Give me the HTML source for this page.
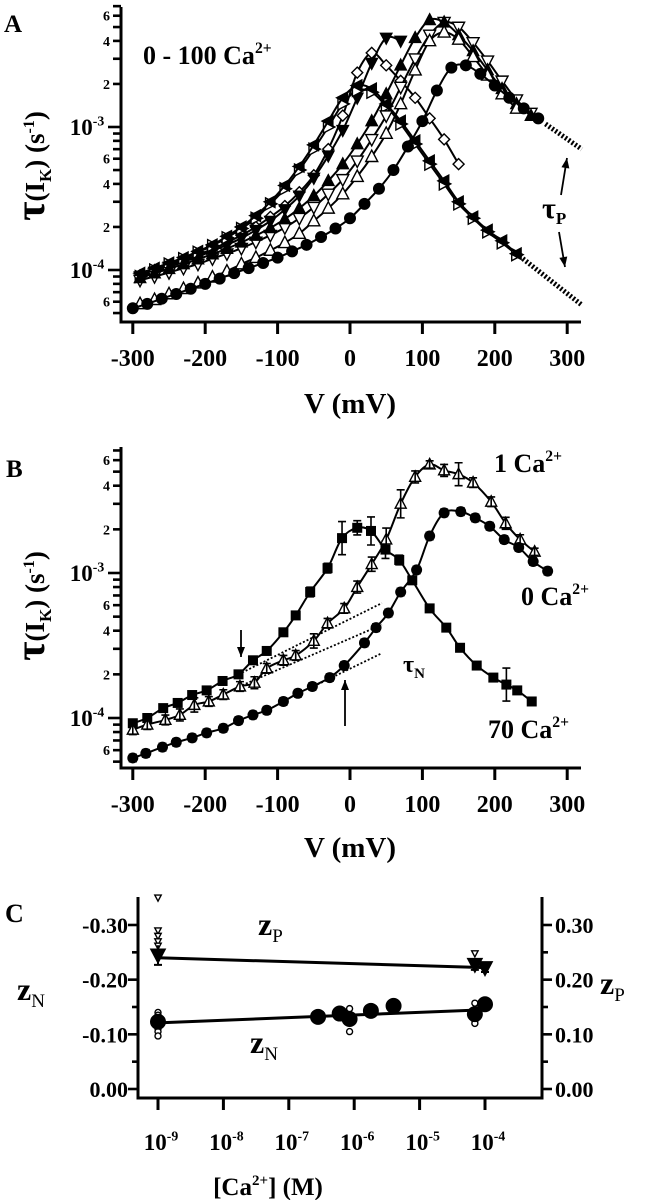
<!DOCTYPE html>
<html><head><meta charset="utf-8"><style>
html,body{margin:0;padding:0;background:#fff}
svg{display:block}
text{font-family:"Liberation Serif",serif;font-weight:bold;fill:#000}
</style></head><body>
<svg id="fig" width="650" height="1200" viewBox="0 0 650 1200" xmlns="http://www.w3.org/2000/svg">
<g id="gA"></g>
<g id="gB"></g>
<g id="gC"></g>
</svg>
<script>
// ---------- Panel A data ----------
const a0V=[-300,-280,-260,-240,-220,-200,-180,-160,-140,-120,-100,-80,-60,-40,-20,0,20,40,60,80,100,120,140,160,180,200,220,240,260];
const a0T=[5.4e-5,5.8e-5,6.3e-5,6.8e-5,7.4e-5,8e-5,8.7e-5,9.5e-5,1.03e-4,1.12e-4,1.22e-4,1.35e-4,1.5e-4,1.7e-4,1.95e-4,2.3e-4,2.9e-4,3.7e-4,5e-4,7.3e-4,1.1e-3,1.8e-3,2.6e-3,2.7e-3,2.35e-3,1.95e-3,1.6e-3,1.35e-3,1.15e-3];
const a1V=[-290,-270,-250,-230,-210,-190,-170,-150,-130,-110,-90,-70,-50,-30,-10,10,30,50,70,90,110,130,150,170,190,210,230];
const a1T=[5.8e-5,6.2e-5,6.8e-5,7.4e-5,8.1e-5,8.9e-5,9.8e-5,1.1e-4,1.22e-4,1.37e-4,1.55e-4,1.8e-4,2.2e-4,2.7e-4,3.4e-4,4.5e-4,6.2e-4,9e-4,1.45e-3,2.5e-3,4e-3,4.6e-3,4.1e-3,3.1e-3,2.3e-3,1.7e-3,1.35e-3];
const a2V=[-290,-270,-250,-230,-210,-190,-170,-150,-130,-110,-90,-70,-50,-30,-10,10,30,50,70,90,110,130,150,170,190,210,230,250];
const a2T=[8.5e-5,9e-5,9.6e-5,1.03e-4,1.1e-4,1.2e-4,1.3e-4,1.42e-4,1.57e-4,1.75e-4,1.98e-4,2.3e-4,2.75e-4,3.4e-4,4.3e-4,5.8e-4,8.2e-4,1.2e-3,1.9e-3,3e-3,4.4e-3,5.4e-3,5e-3,3.9e-3,2.9e-3,2.1e-3,1.55e-3,1.25e-3];
const a3V=[-290,-270,-250,-230,-210,-190,-170,-150,-130,-110,-90,-70,-50,-30,-10,10,30,50,70,90,110,130,150,170,190,210,230,250];
const a3T=[8.8e-5,9.5e-5,1.02e-4,1.1e-4,1.19e-4,1.29e-4,1.41e-4,1.56e-4,1.74e-4,1.97e-4,2.27e-4,2.7e-4,3.3e-4,4.2e-4,5.5e-4,7.6e-4,1.1e-3,1.7e-3,2.7e-3,4.2e-3,5.6e-3,5.4e-3,4.4e-3,3.4e-3,2.5e-3,1.85e-3,1.45e-3,1.2e-3];
const a4V=[-290,-270,-250,-230,-210,-190,-170,-150,-130,-110,-90,-70,-50,-30,-10,10,30,50,70];
const a4T=[9e-5,9.7e-5,1.05e-4,1.14e-4,1.24e-4,1.36e-4,1.5e-4,1.67e-4,1.9e-4,2.2e-4,2.65e-4,3.3e-4,4.4e-4,6.3e-4,9.5e-4,1.6e-3,2.8e-3,4.2e-3,4e-3];
const a5V=[-290,-270,-250,-230,-210,-190,-170,-150,-130,-110,-90,-70,-50,-30,-10,10,30,50,70,90,110,130,150];
const a5T=[9.2e-5,1e-4,1.08e-4,1.17e-4,1.28e-4,1.4e-4,1.56e-4,1.75e-4,2e-4,2.35e-4,2.8e-4,3.5e-4,4.6e-4,7e-4,1.2e-3,2.4e-3,3.3e-3,2.7e-3,2.1e-3,1.6e-3,1.15e-3,8.2e-4,5.5e-4];
const a6V=[-290,-270,-250,-230,-210,-190,-170,-150,-130,-110,-90,-70,-50,-30,-10,10,30,50,70,90,110,130,150,170,190,210,230];
const a6T=[9.5e-5,1.03e-4,1.12e-4,1.22e-4,1.35e-4,1.5e-4,1.72e-4,2e-4,2.4e-4,3e-4,3.9e-4,5.3e-4,7.5e-4,1.1e-3,1.6e-3,1.95e-3,1.85e-3,1.45e-3,1.1e-3,8e-4,5.8e-4,4.2e-4,3e-4,2.35e-4,1.9e-4,1.6e-4,1.3e-4];
const a7V=[-290,-270,-250,-230,-210,-190,-170,-150,-130,-110,-90,-70,-50,-30,-10,10,30,50,70,90,110,130,150,170,190,210,230];
const a7T=[9e-5,1e-4,1.1e-4,1.2e-4,1.33e-4,1.48e-4,1.68e-4,1.95e-4,2.3e-4,2.9e-4,3.7e-4,5e-4,7e-4,1e-3,1.45e-3,1.8e-3,1.75e-3,1.4e-3,1.05e-3,7.6e-4,5.5e-4,4e-4,2.9e-4,2.3e-4,1.85e-4,1.55e-4,1.28e-4];
const aTailPV=[270,320]; const aTailPT=[1.05e-3,7e-4];
const aTailNV=[230,320]; const aTailNT=[1.3e-4,5.7e-5];
const xTickLabels=[-300,-200,-100,0,100,200,300];

// ---------- Panel B data ----------
const b70V=[-300,-280,-258,-238,-218,-198,-176,-154,-134,-115,-92,-75,-55,-31,-11,10,29,49,68,86,110,133,152,175,198,216,231,251];
const b70T=[9.2e-5,1e-4,1.17e-4,1.27e-4,1.44e-4,1.55e-4,1.8e-4,2e-4,2.5e-4,2.9e-4,3.9e-4,5.1e-4,7.4e-4,1.08e-3,1.74e-3,2.05e-3,1.95e-3,1.45e-3,1.23e-3,8.9e-4,5.7e-4,4.2e-4,3.05e-4,2.3e-4,1.9e-4,1.7e-4,1.55e-4,1.3e-4];
const b70E=[.06,.06,.06,.06,.06,.06,.06,.06,.06,.06,.06,.06,.08,.08,.3,.12,.25,.15,.08,.06,.06,.06,.06,.06,.06,.3,.06,.06];
const b1V=[-300,-280,-255,-235,-215,-195,-175,-152,-132,-115,-92,-75,-50,-31,-8,10,30,50,70,90,110,130,150,170,195,215,235,255];
const b1T=[8.3e-5,9e-5,9.7e-5,1.05e-4,1.23e-4,1.3e-4,1.45e-4,1.65e-4,1.75e-4,2.2e-4,2.5e-4,2.7e-4,3.4e-4,4.5e-4,5.7e-4,8e-4,1.15e-3,1.7e-3,3e-3,4.6e-3,5.6e-3,5.1e-3,4.8e-3,4.2e-3,3.1e-3,2.2e-3,1.7e-3,1.4e-3];
const b1E=[.08,.08,.08,.1,.12,.08,.08,.08,.1,.08,.08,.08,.12,.08,.08,.1,.12,.2,.25,.1,.06,.1,.2,.08,.08,.1,.08,.06];
const b0V=[-300,-282,-259,-240,-218,-198,-175,-154,-134,-115,-92,-72,-52,-28,-8,20,36,53,70,92,110,130,153,173,193,213,233,253,273];
const b0T=[5.3e-5,5.7e-5,6.3e-5,6.8e-5,7.3e-5,7.9e-5,8.5e-5,9.6e-5,1.05e-4,1.13e-4,1.3e-4,1.48e-4,1.65e-4,1.9e-4,2.3e-4,3.3e-4,4.2e-4,5.3e-4,7.4e-4,1.05e-3,1.8e-3,2.6e-3,2.65e-3,2.4e-3,2.1e-3,1.7e-3,1.5e-3,1.2e-3,1.03e-3];
const bDotV0=[-154,-154,-45]; const bDotV1=[44,44,44];
const bDotT0=[2e-4,1.64e-4,1.7e-4]; const bDotT1=[6.2e-4,4.4e-4,2.8e-4];

// ---------- Panel C data ----------
const zpConc=[1e-9,7e-5,1e-4]; const zpVal=[0.245,0.228,0.222]; const zpErr=[0.018,0.01,0.008];
const zpRawConc=[1e-9,1e-9,1e-9,1e-9,1e-9,7e-5]; const zpRaw=[0.35,0.29,0.28,0.27,0.262,0.248];
const znConc=[1e-9,2.8e-7,6e-7,8.5e-7,1.8e-6,4e-6,7e-5,1e-4]; const znVal=[0.123,0.132,0.138,0.128,0.143,0.152,0.137,0.155];
const znRawConc=[1e-9,1e-9,1e-9,1e-9,1e-9,1e-9,8.5e-7,8.5e-7,7e-5,7e-5,7e-5];
const znRaw=[0.14,0.135,0.13,0.11,0.105,0.097,0.147,0.105,0.157,0.125,0.12];
const fitConc=[1e-9,1e-4]; const zpFit=[0.24,0.222]; const znFit=[0.121,0.145];
const cYTicks=[0,0.1,0.2,0.3]; const cYLabelsL=["0.00","-0.10","-0.20","-0.30"]; const cYLabelsR=["0.00","0.10","0.20","0.30"];
const cXExp=[-9,-8,-7,-6,-5,-4];

// ---------- helpers ----------
const NS="http://www.w3.org/2000/svg";
function mk(tag,attrs,parent){const e=document.createElementNS(NS,tag);for(const k in attrs)e.setAttribute(k,attrs[k]);parent.appendChild(e);return e;}
const xV=v=>350+0.724*v;
const yA=t=>270-143*Math.log10(t/1e-4);
const yB=t=>718-145*Math.log10(t/1e-4);
const xC=c=>158+65.4*(Math.log10(c)+9);
const yC=z=>1089-546.7*z;

function smooth(pts){
  let d="M"+pts[0][0].toFixed(1)+","+pts[0][1].toFixed(1);
  for(let i=0;i<pts.length-1;i++){
    const p0=pts[Math.max(0,i-1)],p1=pts[i],p2=pts[i+1],p3=pts[Math.min(pts.length-1,i+2)];
    const c1=[p1[0]+(p2[0]-p0[0])/6,p1[1]+(p2[1]-p0[1])/6];
    const c2=[p2[0]-(p3[0]-p1[0])/6,p2[1]-(p3[1]-p1[1])/6];
    d+=" C"+c1[0].toFixed(1)+","+c1[1].toFixed(1)+" "+c2[0].toFixed(1)+","+c2[1].toFixed(1)+" "+p2[0].toFixed(1)+","+p2[1].toFixed(1);
  }
  return d;
}
function marker(g,type,x,y,s){
  let e;
  const open={fill:"#fff",stroke:"#000","stroke-width":1.4};
  const fill={fill:"#000",stroke:"#000","stroke-width":1};
  if(type==="circle"){e=mk("circle",Object.assign({cx:x,cy:y,r:s},fill),g);}
  else if(type==="ocircle"){e=mk("circle",Object.assign({cx:x,cy:y,r:s},open),g);}
  else if(type==="sq"){e=mk("rect",Object.assign({x:x-s,y:y-s,width:2*s,height:2*s},fill),g);}
  else{
    let p;
    if(type.startsWith("tri"))p=[[x,y-s*1.1],[x+s,y+s*0.8],[x-s,y+s*0.8]];
    else if(type.startsWith("itri"))p=[[x,y+s*1.1],[x+s,y-s*0.8],[x-s,y-s*0.8]];
    else if(type.startsWith("diam"))p=[[x,y-s],[x+s,y],[x,y+s],[x-s,y]];
    else if(type.startsWith("rtri"))p=[[x+s*1.1,y],[x-s*0.8,y-s],[x-s*0.8,y+s]];
    else p=[[x-s*1.1,y],[x+s*0.8,y-s],[x+s*0.8,y+s]];
    e=mk("polygon",Object.assign({points:p.map(q=>q.join(",")).join(" ")},type.endsWith("f")?fill:open),g);
  }
  
  
  return e;
}
function txt(g,x,y,s,size,anchor,name){
  const t=mk("text",{x:x,y:y,"font-size":size,"text-anchor":anchor||"start"},g);
  t.textContent=s;
  
  
  return t;
}
function supText(g,x,y,base,sup,size,anchor,name){
  const t=mk("text",{x:x,y:y,"font-size":size,"text-anchor":anchor||"start"},g);
  
  
  const a=mk("tspan",{},t);a.textContent=base;
  const b=mk("tspan",{dy:-size*0.42,"font-size":size*0.6},t);b.textContent=sup;
  return t;
}
function logAxis(g,yf,x0,yTop,yBot,decLabels){
  const ax=mk("line",{x1:x0,y1:yTop,x2:x0,y2:yBot+1.5,stroke:"#000","stroke-width":3},g);
  
  
  for(const dec of [1e-5,1e-4,1e-3]){
    for(let m=1;m<=9;m++){
      const t=m*dec;const y=yf(t);
      if(y<yTop-1||y>yBot-3)continue;
      const len=(m===1)?13:8;
      const tk=mk("line",{x1:x0-len,y1:y,x2:x0,y2:y,stroke:"#000","stroke-width":2.6},g);
      
      
      if(m===2||m===4||m===6)txt(g,x0-11,y+5,String(m),14,"end","y-tick-label");
      if(m===1)supText(g,x0-34,y+8,"10",decLabels[dec],23,"middle","y-decade-label");
    }
  }
}
function xAxis(g,yAx,name){
  const ax=mk("line",{x1:119.5,y1:yAx,x2:581,y2:yAx,stroke:"#000","stroke-width":3},g);
  
  
  for(const v of xTickLabels){
    const tk=mk("line",{x1:xV(v),y1:yAx,x2:xV(v),y2:yAx+12,stroke:"#000","stroke-width":3},g);
    
    
    txt(g,xV(v),yAx+44,String(v),24,"middle","x-tick-label");
  }
}
function yTitle(g,cx,cy){
  const t=mk("text",{x:0,y:0,"font-size":27,"text-anchor":"middle",transform:"translate("+cx+","+cy+") rotate(-90)"},g);
  
  
  const a=mk("tspan",{"font-size":42},t);a.textContent="τ";
  const b=mk("tspan",{},t);b.textContent="(I";
  const c=mk("tspan",{dy:7,"font-size":17},t);c.textContent="K";
  const d=mk("tspan",{dy:-7},t);d.textContent=") (s";
  const e=mk("tspan",{dy:-10,"font-size":16},t);e.textContent="-1";
  const f=mk("tspan",{dy:10},t);f.textContent=")";
}
function series(g,V,T,yf,type,s,name){
  const sg=mk("g",{},g);
  
  
  const pts=V.map((v,i)=>[xV(v),yf(T[i])]);
  mk("path",{d:smooth(pts),fill:"none",stroke:"#000","stroke-width":2},sg);
  pts.forEach(p=>marker(sg,type,p[0],p[1],s));
  return sg;
}
function dotted(g,v0,v1,t0,t1,yf,w,name){
  const l=mk("line",{x1:xV(v0),y1:yf(t0),x2:xV(v1),y2:yf(t1),stroke:"#000","stroke-width":w,"stroke-dasharray":"2,2"},g);
  
  
}
function arrow(g,x1,y1,x2,y2,name){
  const ag=mk("g",{},g);
  
  
  mk("line",{x1:x1,y1:y1,x2:x2,y2:y2,stroke:"#000","stroke-width":1.8},ag);
  const a=Math.atan2(y2-y1,x2-x1),L=10,W=4;
  const bx=x2-L*Math.cos(a),by=y2-L*Math.sin(a);
  mk("polygon",{points:[x2,y2,bx-W*Math.sin(a),by+W*Math.cos(a),bx+W*Math.sin(a),by-W*Math.cos(a)].join(","),fill:"#000"},ag);
}

// ---------- Panel A ----------
const gA=document.getElementById("gA");
txt(gA,4,32,"A",25,"start","panel-label-a");
logAxis(gA,yA,121,7,322,{1e-5:"-5",1e-4:"-4",1e-3:"-3"});
xAxis(gA,322,"x-axis-a");
txt(gA,350,413,"V (mV)",29,"middle","x-axis-title-a");
yTitle(gA,44,166);
supText(gA,143,64,"0 - 100 Ca","2+",26,"start","legend-text-a");
dotted(gA,aTailPV[0],aTailPV[1],aTailPT[0],aTailPT[1],yA,5,"tau-p-extrapolation");
dotted(gA,aTailNV[0],aTailNV[1],aTailNT[0],aTailNT[1],yA,5,"tau-n-extrapolation");
series(gA,a5V,a5T,yA,"diam",5.5,"series-diamond");
series(gA,a4V,a4T,yA,"itrif",6,"series-filled-down-triangle");
series(gA,a7V,a7T,yA,"rtri",6,"series-right-triangle");
series(gA,a6V,a6T,yA,"ltrif",6,"series-70-ca");
series(gA,a2V,a2T,yA,"itri",6,"series-open-down-triangle");
series(gA,a3V,a3T,yA,"trif",6,"series-filled-up-triangle");
series(gA,a1V,a1T,yA,"tri",6,"series-open-up-triangle");
series(gA,a0V,a0T,yA,"circle",5.5,"series-0-ca");
(function(){const t=mk("text",{x:542,y:218,"font-size":30},gA);


const a=mk("tspan",{},t);a.textContent="τ";const b=mk("tspan",{dy:6,"font-size":17},t);b.textContent="P";})();
arrow(gA,561,195,567,158,"tau-p-arrow-up");
arrow(gA,559,232,565,267,"tau-p-arrow-down");

// ---------- Panel B ----------
const gB=document.getElementById("gB");
txt(gB,6,477,"B",25,"start","panel-label-b");
logAxis(gB,yB,121,447,768,{1e-5:"-5",1e-4:"-4",1e-3:"-3"});
xAxis(gB,768,"x-axis-b");
txt(gB,350,857,"V (mV)",29,"middle","x-axis-title-b");
yTitle(gB,44,606);
for(let i=0;i<bDotV0.length;i++)dotted(gB,bDotV0[i],bDotV1[i],bDotT0[i],bDotT1[i],yB,1.8,"tau-n-fit-line");
function errSeries(V,T,E,type,s,name){
  const sg=series(gB,V,T,yB,type,s,name);
  V.forEach((v,i)=>{
    const e=E?E[i]:0.06;const x=xV(v);
    const y1=yB(T[i]*(1+e)),y2=yB(T[i]/(1+e));
    const eg=mk("g",{},sg);
    
    
    mk("path",{d:"M"+x+","+y1+"V"+y2+"M"+(x-4)+","+y1+"H"+(x+4)+"M"+(x-4)+","+y2+"H"+(x+4),stroke:"#000","stroke-width":1.6,fill:"none"},eg);
  });
}
errSeries(b70V,b70T,b70E,"sq",4.5,"series-70-ca-b");
errSeries(b1V,b1T,b1E,"tri",5.5,"series-1-ca-b");
errSeries(b0V,b0T,null,"circle",5,"series-0-ca-b");
supText(gB,494,472,"1 Ca","2+",26,"start","label-1-ca");
supText(gB,521,605,"0 Ca","2+",26,"start","label-0-ca");
supText(gB,488,738,"70 Ca","2+",26,"start","label-70-ca");
(function(){const t=mk("text",{x:403,y:672,"font-size":24},gB);


const a=mk("tspan",{},t);a.textContent="τ";const b=mk("tspan",{dy:6,"font-size":15},t);b.textContent="N";})();
arrow(gB,241,630,241,657,"arrow-down-b");
arrow(gB,345,726,345,680,"arrow-up-b");

// ---------- Panel C ----------
const gC=document.getElementById("gC");
txt(gC,5,922,"C",26,"start","panel-label-c");
(function(){
  const l=mk("line",{x1:138,y1:897,x2:138,y2:1099.5,stroke:"#000","stroke-width":3},gC);
  
  
  const r=mk("line",{x1:542,y1:897,x2:542,y2:1099.5,stroke:"#000","stroke-width":3},gC);
  
  
  const b=mk("line",{x1:136.5,y1:1098,x2:543.5,y2:1098,stroke:"#000","stroke-width":3},gC);
  
  
})();
for(let k=0;k<=6;k++){
  const z=k*0.05,y=yC(z),len=(k%2===0)?10:6;
  const a=mk("line",{x1:138-len,y1:y,x2:138,y2:y,stroke:"#000","stroke-width":2.6},gC);
  
  
  const b=mk("line",{x1:542,y1:y,x2:542+len,y2:y,stroke:"#000","stroke-width":2.6},gC);
  
  
}
cYTicks.forEach((z,i)=>{
  txt(gC,128,yC(z)+8,cYLabelsL[i],22,"end","y-tick-label-left");
  txt(gC,555,yC(z)+8,cYLabelsR[i],22,"start","y-tick-label-right");
});
cXExp.forEach(e=>{
  const x=xC(Math.pow(10,e));
  const tk=mk("line",{x1:x,y1:1098,x2:x,y2:1110,stroke:"#000","stroke-width":3},gC);
  
  
  supText(gC,x+3,1150,"10",String(e),23,"middle","x-tick-label-c");
});
(function(){const t=mk("text",{x:268,y:1195,"font-size":25,"text-anchor":"middle","font-weight":"normal"},gC);


const a=mk("tspan",{},t);a.textContent="[Ca";const b=mk("tspan",{dy:-10,"font-size":15},t);b.textContent="2+";const c=mk("tspan",{dy:10},t);c.textContent="] (M)";})();
function zLabel(x,y,sub,name){
  const t=mk("text",{x:x,y:y,"font-size":32},gC);
  
  
  const a=mk("tspan",{},t);a.textContent="z";const b=mk("tspan",{dy:7,"font-size":19,"font-weight":"normal"},t);b.textContent=sub;
}
zLabel(258,935,"P","zp-label");
zLabel(250,1053,"N","zn-label");
zLabel(17,1000,"N","zn-axis-title");
zLabel(600,994,"P","zp-axis-title");
(function(){
  const f1=mk("line",{x1:xC(fitConc[0]),y1:yC(zpFit[0]),x2:xC(fitConc[1]),y2:yC(zpFit[1]),stroke:"#000","stroke-width":3},gC);
  
  
  const f2=mk("line",{x1:xC(fitConc[0]),y1:yC(znFit[0]),x2:xC(fitConc[1]),y2:yC(znFit[1]),stroke:"#000","stroke-width":3},gC);
  
  
})();
zpRawConc.forEach((c,i)=>marker(gC,"itri",xC(c),yC(zpRaw[i]),3.2));
znRawConc.forEach((c,i)=>marker(gC,"ocircle",xC(c),yC(znRaw[i]),3));
zpConc.forEach((c,i)=>{
  const x=xC(c);
  const eb=mk("path",{d:"M"+x+","+yC(zpVal[i]+zpErr[i])+"V"+yC(zpVal[i]-zpErr[i])+"M"+(x-4)+","+yC(zpVal[i]-zpErr[i])+"H"+(x+4),stroke:"#000","stroke-width":2,fill:"none"},gC);
  
  
  marker(gC,"itrif",x,yC(zpVal[i]),7.5);
});
znConc.forEach((c,i)=>marker(gC,"circle",xC(c),yC(znVal[i]),7.5));
</script>
</body></html>
